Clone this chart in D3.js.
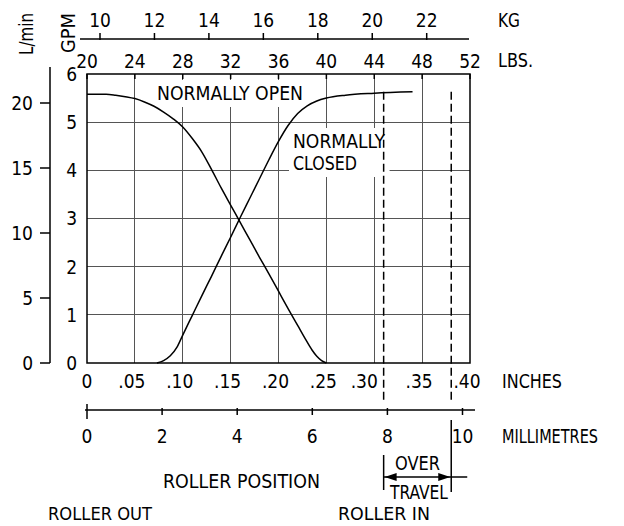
<!DOCTYPE html>
<html>
<head>
<meta charset="utf-8">
<script src="https://cdn.jsdelivr.net/npm/d3@7"></script>
<style>
  body { margin: 0; background: #fff; }
  svg text { font-family: "Liberation Sans Narrow", "DejaVu Sans Condensed", "DejaVu Sans", sans-serif; font-stretch: condensed; fill: #000; }
</style>
</head>
<body>
<div id="chart"></div>
<script>
// ---- data ----
const gpmTicks = [0, 1, 2, 3, 4, 5, 6];
const lminTicks = [0, 5, 10, 15, 20];
const kgTicks = [10, 12, 14, 16, 18, 20, 22];
const lbsTicks = [20, 24, 28, 32, 36, 40, 44, 48, 52];
const inchTicks = [0, 0.05, 0.10, 0.15, 0.20, 0.25, 0.30, 0.35, 0.40];
const mmTicks = [0, 2, 4, 6, 8, 10];

// flow (GPM) against roller position (inches)
const normallyOpen = [
  [0, 5.58], [0.02, 5.58], [0.03, 5.56], [0.04, 5.53], [0.05, 5.49], [0.06, 5.42],
  [0.07, 5.33], [0.08, 5.21], [0.09, 5.07], [0.10, 4.9], [0.11, 4.66], [0.12, 4.38],
  [0.13, 4.02], [0.14, 3.64], [0.15, 3.28], [0.16, 2.92], [0.17, 2.56], [0.18, 2.2],
  [0.19, 1.85], [0.20, 1.49], [0.21, 1.13], [0.22, 0.78], [0.228, 0.5], [0.235, 0.27],
  [0.24, 0.14], [0.245, 0.05], [0.25, 0.0]
];
const normallyClosed = [
  [0.073, 0], [0.08, 0.05], [0.087, 0.15], [0.094, 0.33], [0.10, 0.58], [0.11, 0.99],
  [0.12, 1.40], [0.13, 1.80], [0.14, 2.21], [0.15, 2.61], [0.16, 3.02], [0.17, 3.42],
  [0.18, 3.82], [0.19, 4.22], [0.20, 4.6], [0.21, 4.93], [0.22, 5.18], [0.23, 5.34],
  [0.24, 5.44], [0.25, 5.5], [0.27, 5.56], [0.30, 5.6], [0.34, 5.63]
];
const overTravelMm = [7.9, 9.7];

// ---- layout ----
const W = 624, H = 526;
const plot = { left: 87, right: 470, top: 74, bottom: 363 };

const svg = d3.select("#chart").append("svg")
  .attr("width", W).attr("height", H);

const xIn = d3.scaleLinear().domain([0, 0.40]).range([plot.left, plot.right]);
const yGpm = d3.scaleLinear().domain([0, 6]).range([plot.bottom, plot.top]);
const yLmin = d3.scaleLinear().domain([0, 20]).range([plot.bottom, 103]);
const xLbs = d3.scaleLinear().domain([20, 52]).range([plot.left, plot.right]);
const xKg = d3.scaleLinear().domain([10, 22]).range([100, 426.7]);
const xMm = d3.scaleLinear().domain([0, 10]).range([plot.left, 462.5]);

const fs = 19;
const gridCol = "#555";

function label(txt, x, y, opts = {}) {
  const t = svg.append("text")
    .attr("x", x).attr("y", y)
    .attr("font-size", opts.size || fs)
    .attr("text-anchor", opts.anchor || "start")
    .text(txt);
  if (opts.len) t.attr("textLength", opts.len).attr("lengthAdjust", "spacingAndGlyphs");
  return t;
}

// grid
svg.append("g").selectAll("line")
  .data(gpmTicks.filter(d => d > 0 && d < 6))
  .join("line")
  .attr("x1", plot.left).attr("x2", plot.right)
  .attr("y1", d => yGpm(d)).attr("y2", d => yGpm(d))
  .attr("stroke", gridCol).attr("stroke-width", 1).attr("shape-rendering", "crispEdges");

svg.append("g").selectAll("line")
  .data(inchTicks.filter(d => d > 0 && d < 0.40))
  .join("line")
  .attr("x1", d => xIn(d)).attr("x2", d => xIn(d))
  .attr("y1", plot.top).attr("y2", plot.bottom)
  .attr("stroke", gridCol).attr("stroke-width", 1).attr("shape-rendering", "crispEdges");

// white boxes behind curve names
function boxedText(lines, x, lens) {
  const g = svg.append("g");
  const rect = g.append("rect").attr("fill", "#fff");
  lines.forEach((l, i) => {
    const t = g.append("text").attr("x", x).attr("y", l[1])
      .attr("font-size", fs).text(l[0]);
    t.attr("textLength", lens[i]).attr("lengthAdjust", "spacingAndGlyphs");
  });
  const b = g.node().getBBox();
  rect.attr("x", b.x - 4).attr("y", b.y - 2).attr("width", b.width + 8).attr("height", b.height + 5);
}
boxedText([["NORMALLY OPEN", 100]], 157, [146]);
boxedText([["NORMALLY", 148], ["CLOSED", 170]], 293, [92, 64]);

// over-travel dashed lines
svg.append("g").selectAll("line")
  .data(overTravelMm)
  .join("line")
  .attr("x1", d => xMm(d)).attr("x2", d => xMm(d))
  .attr("y1", yGpm(5.63)).attr("y2", 402)
  .attr("stroke", "#000").attr("stroke-width", 1.5)
  .attr("stroke-dasharray", "8,4");

// curves
const line = d3.line()
  .x(d => xIn(d[0])).y(d => yGpm(d[1]))
  .curve(d3.curveMonotoneX);

svg.append("path").datum(normallyOpen).attr("d", line)
  .attr("fill", "none").attr("stroke", "#000").attr("stroke-width", 1.5);
svg.append("path").datum(normallyClosed).attr("d", line)
  .attr("fill", "none").attr("stroke", "#000").attr("stroke-width", 1.5);

// plot frame
svg.append("rect")
  .attr("x", plot.left).attr("y", plot.top)
  .attr("width", plot.right - plot.left).attr("height", plot.bottom - plot.top)
  .attr("fill", "none").attr("stroke", "#000").attr("stroke-width", 1.5);

// GPM labels (inner left)
svg.append("g").selectAll("text")
  .data(gpmTicks).join("text")
  .attr("x", 77).attr("y", d => yGpm(d)).attr("dy", "0.36em")
  .attr("text-anchor", "end").attr("font-size", fs)
  .text(d => d);

// L/min axis (outer left)
svg.append("line").attr("x1", 50).attr("x2", 50).attr("y1", 67).attr("y2", plot.bottom)
  .attr("stroke", "#000").attr("stroke-width", 1.5);
svg.append("g").selectAll("line")
  .data(lminTicks).join("line")
  .attr("x1", 40).attr("x2", 50)
  .attr("y1", d => yLmin(d)).attr("y2", d => yLmin(d))
  .attr("stroke", "#000").attr("stroke-width", 1.5);
svg.append("g").selectAll("text")
  .data(lminTicks).join("text")
  .attr("x", 33).attr("y", d => yLmin(d)).attr("dy", "0.36em")
  .attr("text-anchor", "end").attr("font-size", fs)
  .text(d => d);

// rotated unit labels
svg.append("text").attr("transform", "translate(33,34) rotate(-90)")
  .attr("text-anchor", "middle").attr("font-size", fs)
  .attr("textLength", 42).attr("lengthAdjust", "spacingAndGlyphs").text("L/min");
svg.append("text").attr("transform", "translate(75,33) rotate(-90)")
  .attr("text-anchor", "middle").attr("font-size", fs)
  .attr("textLength", 40).attr("lengthAdjust", "spacingAndGlyphs").text("GPM");

// KG axis (top)
svg.append("line").attr("x1", 80).attr("x2", 469).attr("y1", 39).attr("y2", 39)
  .attr("stroke", "#000").attr("stroke-width", 1.5);
svg.append("g").selectAll("line")
  .data(kgTicks).join("line")
  .attr("x1", d => xKg(d)).attr("x2", d => xKg(d))
  .attr("y1", 33).attr("y2", 40)
  .attr("stroke", "#000").attr("stroke-width", 1.5);
svg.append("g").selectAll("text")
  .data(kgTicks).join("text")
  .attr("x", d => xKg(d)).attr("y", 27)
  .attr("text-anchor", "middle").attr("font-size", fs)
  .text(d => d);
label("KG", 498, 27, { len: 22 });

// LBS axis (on plot top)
svg.append("g").selectAll("line")
  .data(lbsTicks).join("line")
  .attr("x1", d => xLbs(d)).attr("x2", d => xLbs(d))
  .attr("y1", plot.top).attr("y2", plot.top + 5)
  .attr("stroke", "#000").attr("stroke-width", 1.5);
svg.append("g").selectAll("text")
  .data(lbsTicks).join("text")
  .attr("x", d => xLbs(d)).attr("y", 68)
  .attr("text-anchor", "middle").attr("font-size", fs)
  .text(d => d);
label("LBS.", 498, 67, { len: 35 });

// inches labels (.30 sits left of the over-travel line)
const inchFmt = v => v === 0 ? "0" : d3.format(".2f")(v).slice(1);
svg.append("g").selectAll("text")
  .data(inchTicks).join("text")
  .attr("x", d => xIn(d)).attr("y", 388)
  .attr("dx", d => d === 0 ? 0 : (Math.abs(d - 0.30) < 1e-9 ? -10 : -3))
  .attr("text-anchor", "middle").attr("font-size", fs)
  .text(inchFmt);
label("INCHES", 502, 388, { len: 60 });

// millimetre axis
svg.append("line").attr("x1", 85).attr("x2", 475).attr("y1", 410).attr("y2", 410)
  .attr("stroke", "#000").attr("stroke-width", 1.5);
svg.append("g").selectAll("line")
  .data(mmTicks).join("line")
  .attr("x1", d => xMm(d)).attr("x2", d => xMm(d))
  .attr("y1", d => d === 0 ? 404 : 408).attr("y2", d => d === 0 ? 419 : 415)
  .attr("stroke", "#000").attr("stroke-width", 1.5);
svg.append("g").selectAll("text")
  .data(mmTicks).join("text")
  .attr("x", d => xMm(d)).attr("y", 443)
  .attr("text-anchor", "middle").attr("font-size", fs)
  .text(d => d);
label("MILLIMETRES", 502, 443, { len: 96 });

// over travel marker
const ot0 = xMm(overTravelMm[0]), ot1 = xMm(overTravelMm[1]);
svg.append("line").attr("x1", ot0).attr("x2", ot0).attr("y1", 455).attr("y2", 490)
  .attr("stroke", "#000").attr("stroke-width", 1.5);
svg.append("line").attr("x1", ot1).attr("x2", ot1).attr("y1", 420).attr("y2", 492)
  .attr("stroke", "#000").attr("stroke-width", 1.5);
svg.append("line").attr("x1", ot0).attr("x2", ot1 + 16).attr("y1", 477).attr("y2", 477)
  .attr("stroke", "#000").attr("stroke-width", 1.5);
svg.append("path")
  .attr("d", `M${ot0 + 1},477 L${ot0 + 13},473 L${ot0 + 13},481 Z`).attr("fill", "#000");
svg.append("path")
  .attr("d", `M${ot1 - 1},477 L${ot1 - 13},473 L${ot1 - 13},481 Z`).attr("fill", "#000");
label("OVER", 395, 470, { len: 45 });
label("TRAVEL", 390, 499, { len: 58 });

// bottom captions
label("ROLLER POSITION", 163, 488, { len: 157 });
label("ROLLER OUT", 48, 520, { len: 104, size: 18 });
label("ROLLER IN", 338, 520, { len: 92, size: 18 });
</script>
</body>
</html>
